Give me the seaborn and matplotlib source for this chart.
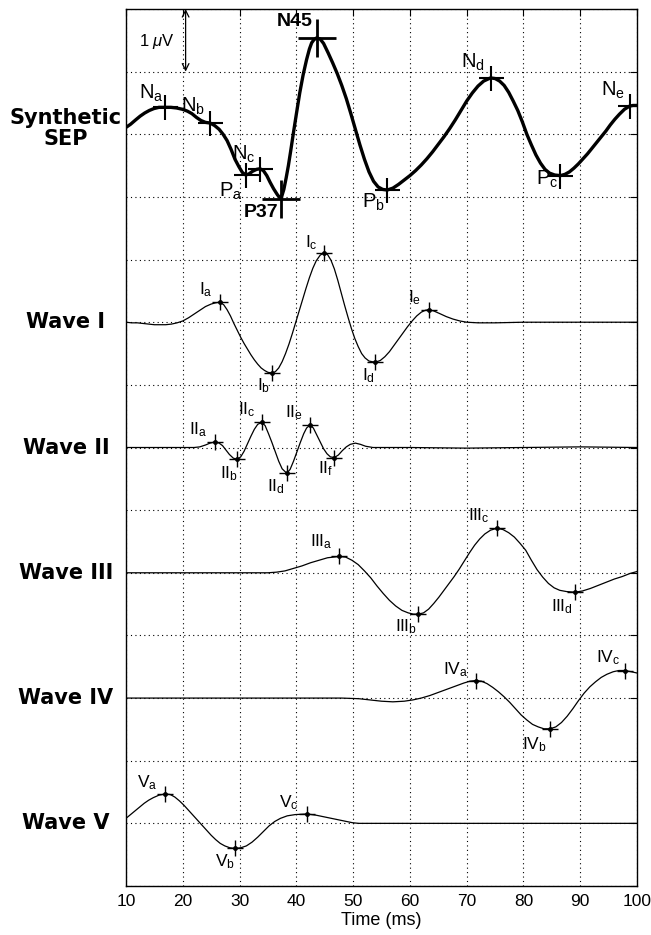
import numpy as np
import pandas as pd
import matplotlib
matplotlib.use("Agg")
import matplotlib.pyplot as plt
import matplotlib.transforms as mtransforms
import seaborn as sns

# ---------------- data (µV relative to each trace's own baseline) ----------------
sep_t = [10, 10.8, 11.7, 12.5, 13.3, 14.1, 14.9, 15.8, 16.9, 17.9, 18.9, 19.9, 20.8, 21.6, 22.4,
         23.2, 24, 24.8, 25.6, 26.4, 27.1, 27.8, 28.5, 29.2, 29.9, 30.5, 31.1, 31.7, 32.3, 33,
         33.6, 34.2, 34.8, 35.4, 36, 36.7, 37.3, 37.8, 38.2, 38.6, 39.0, 39.5, 40.0, 40.6, 41.2,
         41.8, 42.3, 42.7, 43.1, 43.6, 44.2, 44.8, 45.6, 46.4, 47.2, 48, 48.8, 49.6, 50.4, 51.2,
         52, 52.8, 53.6, 54.4, 55.2, 56, 57, 58, 59, 60, 61, 62, 63, 64, 65, 66, 67, 68, 69, 70,
         71, 72, 73, 74.2, 75, 75.8, 76.6, 77.4, 78.2, 79, 79.8, 80.6, 81.4, 82.2, 83, 83.8,
         84.6, 85.5, 86.5, 87.3, 88.1, 88.9, 89.7, 90.5, 91.3, 92.1, 92.9, 93.7, 94.5, 95.3,
         96.1, 96.9, 97.8, 98.7, 99.3, 100]
sep_v = [0.11, 0.16, 0.23, 0.29, 0.34, 0.38, 0.41, 0.43, 0.43, 0.43, 0.42, 0.40, 0.37, 0.33,
         0.27, 0.22, 0.19, 0.18, 0.14, 0.08, 0.0, -0.10, -0.24, -0.40, -0.52, -0.61, -0.65,
         -0.63, -0.59, -0.56, -0.55, -0.58, -0.66, -0.77, -0.87, -0.97, -1.03, -0.88, -0.70,
         -0.50, -0.27, 0.03, 0.32, 0.66, 0.95, 1.19, 1.36, 1.46, 1.51, 1.54, 1.52, 1.45, 1.30,
         1.14, 0.97, 0.78, 0.57, 0.33, 0.08, -0.17, -0.40, -0.60, -0.75, -0.84, -0.88, -0.89,
         -0.86, -0.80, -0.73, -0.66, -0.58, -0.49, -0.39, -0.28, -0.16, -0.04, 0.09, 0.23, 0.38,
         0.53, 0.66, 0.77, 0.85, 0.90, 0.89, 0.85, 0.78, 0.67, 0.53, 0.38, 0.20, 0.0, -0.17,
         -0.33, -0.46, -0.56, -0.62, -0.65, -0.66, -0.64, -0.60, -0.54, -0.47, -0.39, -0.31,
         -0.22, -0.13, -0.04, 0.05, 0.15, 0.24, 0.32, 0.40, 0.45, 0.46, 0.46]

w1_t = [10, 11, 12, 13, 14, 15, 16, 17, 18, 19, 20, 21, 22, 23, 24, 25, 25.8, 26.5, 27.2, 27.8,
        28.4, 29, 29.6, 30.2, 30.8, 31.4, 32, 32.6, 33.2, 33.8, 34.4, 35, 35.7, 36.3, 36.9,
        37.5, 38.1, 38.7, 39.3, 39.9, 40.5, 41.1, 41.7, 42.3, 42.9, 43.5, 44.2, 44.9, 45.5,
        46.1, 46.7, 47.3, 47.9, 48.5, 49.1, 49.7, 50.3, 50.9, 51.5, 52.1, 52.8, 53.9, 54.8,
        55.6, 56.4, 57.2, 58, 58.8, 59.6, 60.4, 61.2, 62, 62.7, 63.3, 64.2, 65.2, 66.4, 67.6,
        68.8, 70, 72, 75, 80, 85, 90, 95, 100]
w1_v = [0.0, -0.01, -0.01, -0.02, -0.03, -0.04, -0.04, -0.04, -0.03, -0.01, 0.02, 0.07, 0.13,
        0.19, 0.25, 0.29, 0.31, 0.32, 0.28, 0.20, 0.10, -0.02, -0.13, -0.24, -0.34, -0.43,
        -0.52, -0.60, -0.67, -0.73, -0.77, -0.80, -0.81, -0.79, -0.73, -0.63, -0.50, -0.35,
        -0.18, 0.0, 0.18, 0.36, 0.54, 0.71, 0.86, 0.98, 1.07, 1.11, 1.08, 0.99, 0.85, 0.67,
        0.47, 0.27, 0.08, -0.10, -0.26, -0.39, -0.50, -0.57, -0.62, -0.64, -0.61, -0.55, -0.47,
        -0.37, -0.27, -0.17, -0.07, 0.02, 0.10, 0.16, 0.19, 0.20, 0.18, 0.14, 0.09, 0.05, 0.02,
        0.0, -0.01, -0.01, 0.0, 0.0, 0.0, 0.0, 0.0]

w2_t = [10, 15, 20, 22, 23, 24, 24.8, 25.7, 26.4, 27, 27.6, 28.2, 28.9, 29.6, 30.2, 30.8, 31.4,
        32, 32.6, 33.2, 33.9, 34.5, 35.1, 35.7, 36.3, 36.9, 37.5, 38.3, 38.9, 39.5, 40.1, 40.7,
        41.3, 41.8, 42.4, 43, 43.6, 44.2, 44.8, 45.4, 46, 46.7, 47.4, 48.1, 48.8, 49.5, 50.4,
        51.3, 52.2, 53.5, 60, 70, 80, 90, 100]
w2_v = [0.0, 0.0, 0.0, 0.0, 0.01, 0.04, 0.07, 0.09, 0.07, 0.03, -0.04, -0.11, -0.17, -0.19,
        -0.15, -0.06, 0.06, 0.18, 0.29, 0.37, 0.40, 0.35, 0.22, 0.08, -0.07, -0.22, -0.34,
        -0.41, -0.35, -0.22, -0.07, 0.08, 0.22, 0.31, 0.36, 0.31, 0.20, 0.09, -0.02, -0.10,
        -0.15, -0.16, -0.12, -0.05, 0.01, 0.05, 0.07, 0.05, 0.02, 0.0, 0.0, -0.01, 0.0, 0.01,
        0.0]

w3_t = [10, 20, 30, 35, 36.5, 38, 39.5, 41, 42.5, 44, 45.5, 47.5, 48.7, 49.8, 50.9, 52, 53.1,
        54.2, 55.3, 56.4, 57.5, 58.6, 59.7, 60.6, 61.5, 62.4, 63.3, 64.2, 65.1, 66, 66.9, 67.8,
        68.7, 69.6, 70.5, 71.4, 72.3, 73.2, 74.2, 75.3, 76.4, 77.4, 78.4, 79.4, 80.4, 81.4,
        82.4, 83.4, 84.4, 85.4, 86.4, 87.6, 89.1, 90.4, 91.8, 93.2, 94.6, 96, 97.4, 98.8, 100]
w3_v = [0.0, 0.0, 0.0, 0.0, 0.01, 0.03, 0.07, 0.11, 0.16, 0.20, 0.24, 0.26, 0.25, 0.20, 0.13,
        0.03, -0.08, -0.21, -0.33, -0.44, -0.53, -0.60, -0.64, -0.66, -0.66, -0.64, -0.58,
        -0.49, -0.39, -0.28, -0.17, -0.06, 0.06, 0.19, 0.32, 0.44, 0.54, 0.62, 0.68, 0.71,
        0.69, 0.64, 0.57, 0.47, 0.36, 0.20, 0.05, -0.07, -0.17, -0.24, -0.28, -0.30, -0.31,
        -0.29, -0.25, -0.20, -0.15, -0.10, -0.06, -0.01, 0.02]

w4_t = [10, 20, 30, 40, 48, 51, 53, 55, 57, 59, 60.5, 62, 63.5, 65, 66.5, 68, 69.5, 70.6, 71.6,
        72.6, 73.6, 74.6, 75.6, 76.6, 77.6, 78.6, 79.6, 80.6, 81.6, 82.6, 83.6, 84.7, 85.7,
        86.7, 87.7, 88.7, 89.7, 90.7, 91.7, 92.7, 93.7, 94.7, 95.8, 96.8, 97.9, 99, 100]
w4_v = [0.0, 0.0, 0.0, 0.0, 0.0, -0.01, -0.03, -0.05, -0.06, -0.05, -0.03, 0.0, 0.04, 0.09,
        0.14, 0.19, 0.24, 0.27, 0.28, 0.27, 0.23, 0.17, 0.10, 0.02, -0.07, -0.17, -0.27, -0.35,
        -0.42, -0.46, -0.49, -0.49, -0.46, -0.39, -0.29, -0.17, -0.04, 0.08, 0.18, 0.26, 0.33,
        0.38, 0.42, 0.44, 0.44, 0.42, 0.40]

w5_t = [10, 10.8, 11.6, 12.4, 13.2, 14, 14.8, 15.8, 16.9, 17.8, 18.6, 19.4, 20.2, 21, 21.8,
        22.6, 23.4, 24.2, 25, 25.8, 26.6, 27.4, 28.3, 29.2, 30.2, 31.2, 32.2, 33.2, 34.2, 35.2,
        36.2, 37.2, 38.4, 39.8, 41.9, 43.5, 45.1, 46.7, 48.3, 49.9, 51, 60, 70, 80, 90, 100]
w5_v = [0.08, 0.14, 0.20, 0.26, 0.32, 0.37, 0.41, 0.45, 0.47, 0.46, 0.42, 0.36, 0.29, 0.21,
        0.13, 0.05, -0.03, -0.11, -0.19, -0.26, -0.32, -0.36, -0.39, -0.40, -0.39, -0.36,
        -0.30, -0.22, -0.13, -0.04, 0.03, 0.08, 0.12, 0.14, 0.15, 0.13, 0.10, 0.07, 0.04, 0.01,
        0.0, 0.0, 0.0, 0.0, 0.0, 0.0]

# peaks: labels, latencies (ms), amplitudes (µV rel. baseline)
sep_pk_lbl = ["N_a", "N_b", "P_a", "N_c", "P37", "N45", "P_b", "N_d", "P_c", "N_e"]
sep_pk_t = [16.9, 24.8, 31.1, 33.6, 37.3, 43.6, 56.0, 74.2, 86.5, 98.7]
sep_pk_v = [0.43, 0.18, -0.65, -0.55, -1.03, 1.54, -0.89, 0.90, -0.66, 0.45]

w1_pk_lbl = ["I_a", "I_b", "I_c", "I_d", "I_e"]
w1_pk_t = [26.5, 35.7, 44.9, 53.9, 63.3]
w1_pk_v = [0.32, -0.81, 1.11, -0.64, 0.20]

w2_pk_lbl = ["II_a", "II_b", "II_c", "II_d", "II_e", "II_f"]
w2_pk_t = [25.7, 29.6, 33.9, 38.3, 42.4, 46.7]
w2_pk_v = [0.09, -0.19, 0.40, -0.41, 0.36, -0.16]

w3_pk_lbl = ["III_a", "III_b", "III_c", "III_d"]
w3_pk_t = [47.5, 61.5, 75.3, 89.1]
w3_pk_v = [0.26, -0.66, 0.71, -0.31]

w4_pk_lbl = ["IV_a", "IV_b", "IV_c"]
w4_pk_t = [71.6, 84.7, 97.9]
w4_pk_v = [0.28, -0.49, 0.44]

w5_pk_lbl = ["V_a", "V_b", "V_c"]
w5_pk_t = [16.9, 29.2, 41.9]
w5_pk_v = [0.47, -0.40, 0.15]

trace_names = ["Synthetic\nSEP", "Wave I", "Wave II", "Wave III", "Wave IV", "Wave V"]
x_ticks = [10, 20, 30, 40, 50, 60, 70, 80, 90, 100]

# ---------------- layout (offsets, label placement) ----------------
baselines = [12, 9, 7, 5, 3, 1]
# (ha, va, dx px, dy px) for each peak label
sep_lay = [("right", "bottom", -2, 3), ("right", "bottom", -5, 6), ("right", "top", -3, -6),
           ("right", "bottom", -5, 4), ("right", "top", -3, -5), ("right", "bottom", -4, 8),
           ("right", "top", -2, -2), ("right", "bottom", -6, 5), ("right", "top", -2, 7),
           ("right", "bottom", -5, 5)]
w1_lay = [("right", "bottom", -7, 3), ("right", "top", -2, -3), ("right", "bottom", -6, 1),
          ("right", "top", 0, -4), ("right", "bottom", -7, 3)]
w2_lay = [("right", "bottom", -8, 3), ("right", "top", 0, -5), ("right", "bottom", -7, 3),
          ("right", "top", -2, -4), ("right", "bottom", -7, 3), ("right", "top", -1, -2)]
w3_lay = [("right", "bottom", -6, 5), ("right", "top", -1, -3), ("right", "bottom", -7, 3),
          ("right", "top", -2, -5)]
w4_lay = [("right", "bottom", -7, 2), ("right", "top", -3, -7), ("right", "bottom", -5, 4)]
w5_lay = [("right", "bottom", -8, 2), ("right", "top", 0, -4), ("right", "bottom", -9, 2)]

# ---------------- style ----------------
sns.set_style("white")
plt.rcParams["font.family"] = ["Liberation Sans", "DejaVu Sans"]
plt.rcParams["mathtext.fontset"] = "custom"
plt.rcParams["mathtext.rm"] = "Liberation Sans"
plt.rcParams["mathtext.it"] = "Liberation Sans:italic"
plt.rcParams["mathtext.bf"] = "Liberation Sans:bold"
for key in ["text.color", "axes.labelcolor", "xtick.color", "ytick.color", "axes.edgecolor"]:
    plt.rcParams[key] = "black"

W, H = 651, 935
fig = plt.figure(figsize=(W / 100, H / 100), dpi=100)
ax = fig.add_axes([126 / W, 49 / H, 511 / W, 877 / H])

curves = [(sep_t, sep_v), (w1_t, w1_v), (w2_t, w2_v), (w3_t, w3_v), (w4_t, w4_v), (w5_t, w5_v)]
frames = []
for name, (t, v), b in zip(trace_names, curves, baselines):
    frames.append(pd.DataFrame({"t": t, "v": np.asarray(v) + b, "trace": name}))
df = pd.concat(frames, ignore_index=True)

sns.lineplot(data=df[df.trace == trace_names[0]], x="t", y="v", color="black", lw=2.4,
             estimator=None, sort=False, ax=ax, legend=False)
sns.lineplot(data=df[df.trace != trace_names[0]], x="t", y="v", units="trace", color="black",
             lw=0.9, estimator=None, sort=False, ax=ax, legend=False)

peaks = [(sep_pk_lbl, sep_pk_t, sep_pk_v, sep_lay), (w1_pk_lbl, w1_pk_t, w1_pk_v, w1_lay),
         (w2_pk_lbl, w2_pk_t, w2_pk_v, w2_lay), (w3_pk_lbl, w3_pk_t, w3_pk_v, w3_lay),
         (w4_pk_lbl, w4_pk_t, w4_pk_v, w4_lay), (w5_pk_lbl, w5_pk_t, w5_pk_v, w5_lay)]

for i, ((lbls, pt, pv, lay), b) in enumerate(zip(peaks, baselines)):
    for lbl, t, v, (ha, va, dx, dy) in zip(lbls, pt, pv, lay):
        y = v + b
        if i == 0:
            big = "_" not in lbl
            ax.plot([t], [y], marker="+", ms=27 if big else 18, mew=2.0 if big else 1.5,
                    color="black", ls="none", zorder=5)
            if big:
                txt, fs, fw = lbl, 14, "bold"
            else:
                m, s = lbl.split("_")
                txt, fs, fw = r"$\mathrm{%s}_{\mathrm{%s}}$" % (m, s), 14.5, "normal"
        else:
            ax.plot([t], [y], marker="+", ms=11, mew=1.0, color="black", ls="none", zorder=5)
            ax.plot([t], [y], marker="o", ms=2.5, color="black", ls="none", zorder=5)
            m, s = lbl.split("_")
            txt, fs, fw = r"$\mathrm{%s}_{\mathrm{%s}}$" % (m, s), 12.5, "normal"
        ax.annotate(txt, xy=(t, y), xytext=(dx, dy), textcoords="offset pixels",
                    ha=ha, va=va, fontsize=fs, fontweight=fw, zorder=6)

# 1 µV calibration arrow
ax.annotate("", xy=(20.5, 14), xytext=(20.5, 13),
            arrowprops=dict(arrowstyle="<->", color="black", lw=0.9, shrinkA=0, shrinkB=0,
                            mutation_scale=12))
ax.text(15.5, 13.48, r"1 $\mu$V", ha="center", va="center", fontsize=12)

# trace names on the left
trans = mtransforms.blended_transform_factory(fig.transFigure, ax.transData)
for name, b in zip(trace_names, baselines):
    yy = b + (0.09 if "\n" in name else 0)
    ax.text(66 / W, yy, name, transform=trans, ha="center", va="center", fontsize=15,
            fontweight="bold", family="DejaVu Sans", linespacing=1.05, clip_on=False)

ax.set_xlim(10, 100)
ax.set_ylim(0, 14)
ax.set_xticks(x_ticks)
ax.set_xticklabels([str(v) for v in x_ticks])
ax.set_yticks(range(0, 15))
ax.set_yticklabels([])
ax.grid(True, color="black", ls=(0, (1, 3)), lw=0.8)
ax.tick_params(direction="in", length=5, width=0.8, top=True, right=True, labelsize=12.5,
               pad=6, colors="black")
for sp in ax.spines.values():
    sp.set_color("black")
    sp.set_linewidth(1.0)
ax.set_xlabel("Time (ms)", fontsize=13, labelpad=2)
ax.set_ylabel("")

fig.savefig("out.png", dpi=100)
